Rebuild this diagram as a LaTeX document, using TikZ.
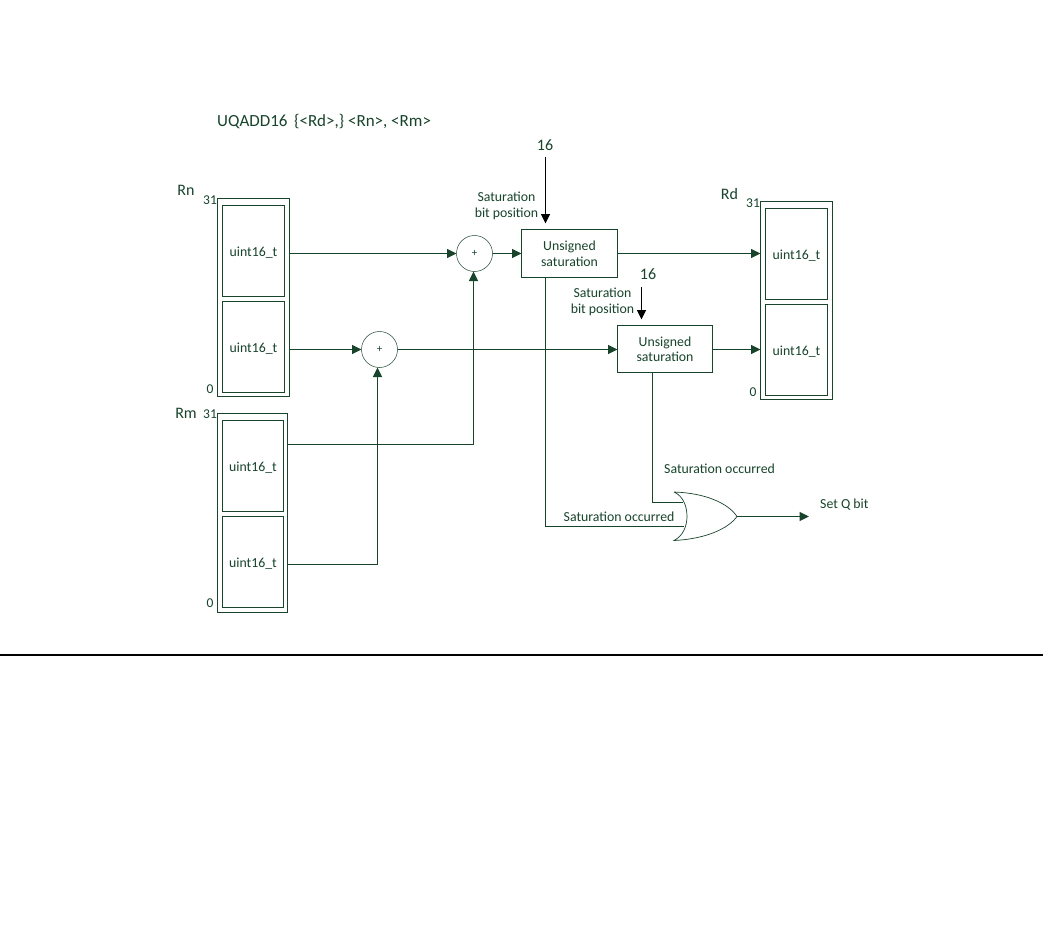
\documentclass[tikz,border=0pt]{standalone}
\usepackage{fontspec}
\setmainfont{Carlito}
\usetikzlibrary{arrows.meta}
\definecolor{armGreen}{RGB}{24,68,44}
\newcommand{\lowtext}[2]{\raisebox{-#1}[\height][\depth]{#2}}
\tikzset{
  x=1pt,y=-1pt,
  every node/.style={text=armGreen,font=\fontsize{13.8}{16}\selectfont},
  regbox/.style={draw=armGreen,line width=1pt,inner sep=0pt,outer sep=0pt,anchor=north west},
  satbox/.style={regbox,align=center},
  addbox/.style={draw=armGreen,line width=0.5pt,circle,inner sep=0pt,outer sep=0pt,minimum size=36pt,font=\fontsize{11}{11}\selectfont},
  wire/.style={draw=armGreen,line width=1pt},
  arrw/.style={wire,-{Triangle[length=9.5pt,width=9pt]}},
  bitarrw/.style={draw=black,line width=1pt,-{Triangle[length=9.5pt,width=9pt]}},
  biglab/.style={font=\fontsize{16}{19}\selectfont},
  titlelab/.style={font=\fontsize{17}{20}\selectfont},
  smalllab/.style={font=\fontsize{13.5}{16}\selectfont}
}
\begin{document}
\begin{tikzpicture}
  \useasboundingbox (0,0) rectangle (1063,926);
  \fill[white] (0,0) rectangle (1063,926);

  \node[titlelab,anchor=west,inner sep=0pt] (title) at (217,122) {UQADD16\, \{<Rd>,\} <Rn>, <Rm>};

  % registers
  \node[regbox,minimum width=72pt,minimum height=198pt] (rnOuter) at (217.5,198.5) {};
  \node[regbox,minimum width=70pt,minimum height=199pt] (rmOuter) at (217.5,413.5) {};
  \node[regbox,minimum width=72pt,minimum height=198pt] (rdOuter) at (760.5,201.5) {};
  \foreach \nm/\x/\y/\w in {rnHi/222.5/205.5/62,rnLo/222.5/301.5/62,rmHi/222.5/420.5/61,rmLo/222.5/516.5/61,rdHi/765.5/208.5/62,rdLo/765.5/304.5/62}
    \node[regbox,minimum width=\w pt,minimum height=91pt] (\nm) at (\x,\y) {\lowtext{1.5pt}{uint16\_t}};

  \node[biglab] (rnLab) at (186,190.5) {Rn};
  \node[biglab] (rmLab) at (186,413.5) {Rm};
  \node[biglab] (rdLab) at (729.5,193.5) {Rd};
  \node[smalllab] (rnTop) at (210,200.5) {31};
  \node[smalllab] (rnBot) at (210,389.5) {0};
  \node[smalllab] (rmTop) at (210,414.5) {31};
  \node[smalllab] (rmBot) at (210,603.5) {0};
  \node[smalllab] (rdTop) at (753,203.5) {31};
  \node[smalllab] (rdBot) at (753,392.5) {0};

  % adders and saturation
  \node[addbox] (addHi) at (474.5,253.5) {+};
  \node[addbox] (addLo) at (379.5,349.5) {+};
  \node[satbox,minimum width=96pt,minimum height=48pt] (satHi) at (521.5,229.5) {\lowtext{2pt}{\begin{tabular}{@{}c@{}}Unsigned\\[-0.5pt]saturation\end{tabular}}};
  \node[satbox,minimum width=95pt,minimum height=47pt] (satLo) at (617.5,325.5) {\lowtext{2pt}{\begin{tabular}{@{}c@{}}Unsigned\\[-0.5pt]saturation\end{tabular}}};

  \node[biglab] (numHi) at (545,145.5) {16};
  \node[biglab] (numLo) at (648,274.5) {16};
  \node[align=center] (posHi) at (506.5,206) {Saturation\\bit position};
  \node[align=center] (posLo) at (602.5,302) {Saturation\\bit position};
  \node[anchor=west,inner sep=0pt] (occLo) at (664,469) {Saturation occurred};
  \node[anchor=west,inner sep=0pt] (occHi) at (563.5,517) {Saturation occurred};
  \node[anchor=west,inner sep=0pt] (setQ) at (820,505) {Set Q bit};

  % or gate
  \coordinate (orTop) at (674,492);
  \coordinate (orBot) at (674,540.5);
  \coordinate (orOut) at (737,516.5);
  \coordinate (orInA) at (683,502.5);
  \coordinate (orInB) at (684,526.5);
  \draw[draw=armGreen,line width=0.7pt] (orTop) .. controls (705,493) and (728,503) .. (orOut)
    .. controls (728,529) and (705,539) .. (orBot)
    .. controls (683,536) and (687,526) .. (687,516.5)
    .. controls (687,506) and (683,496) .. (orTop);

  \coordinate (setQEnd) at (809,516.5);
  \coordinate (rmHiOut) at (288,444.5);
  \coordinate (rmLoOut) at (288,564.5);
  \coordinate (satHiDrop) at (545.5,277.5);
  \coordinate (satLoDrop) at (652.5,372.5);
  \coordinate (bitHiStart) at (545.5,157);
  \coordinate (bitLoStart) at (641.5,287);

  % connectors
  \draw[arrw] (rnOuter.east |- addHi) -- (addHi);
  \draw[arrw] (rnOuter.east |- addLo) -- (addLo);
  \draw[arrw] (rmHiOut) -| ([xshift=-1pt]addHi.south);
  \draw[arrw] (rmLoOut) -| ([xshift=-2pt]addLo.south);
  \draw[arrw] (addHi) -- (satHi.west |- addHi);
  \draw[arrw] (addLo) -- (satLo.west |- addLo);
  \draw[arrw] (satHi.east |- addHi) -- (rdOuter.west |- addHi);
  \draw[arrw] (satLo.east |- addLo) -- (rdOuter.west |- addLo);
  \draw[wire] (satHiDrop) |- (orInB);
  \draw[wire] (satLoDrop) |- (orInA);
  \draw[arrw] (orOut) -- (setQEnd);
  \draw[bitarrw] (bitHiStart) -- ([yshift=6pt]satHi.north -| bitHiStart);
  \draw[bitarrw] (bitLoStart) -- ([yshift=6pt]satLo.north -| bitLoStart);

  \draw[black,line width=2pt] (0,655) -- (1043,655);
\end{tikzpicture}
\end{document}
